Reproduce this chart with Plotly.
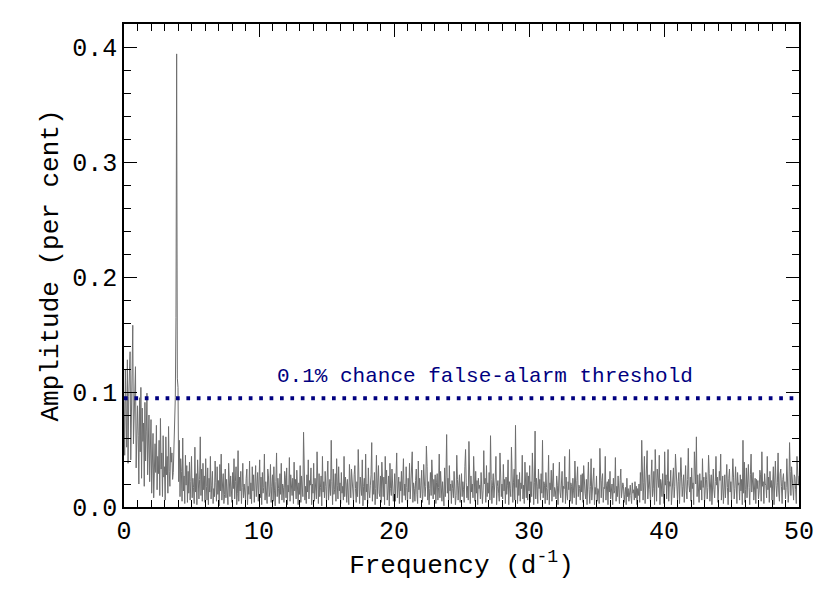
import numpy as np
import plotly.graph_objects as go

# Periodogram: amplitude in units of 0.001 per cent,
# one row per 1 d^-1, sampled every 0.05 d^-1
freq_step = 0.05
amp_milli = [
    92,45,120,80,52,128,38,96,112,135,41,70,99,158,55,84,118,122,34,66,     # 0
    88,62,20,95,48,104,25,86,57,73,18,91,40,66,99,28,52,80,22,69,           # 1
    76,12,41,64,8,38,55,30,71,15,44,29,58,10,77,33,47,9,62,26,              # 2
    35,6,61,28,44,12,70,31,18,52,39,47,24,30,57,66,95,165,394,112,          # 3
    104,22,58,9,42,31,5,60,14,27,3,45,19,36,4,31,12,39,6,22,                # 4
    44,8,25,17,3,52,13,29,2,41,20,7,24,61,10,33,5,38,15,27,                 # 5
    4,42,18,6,34,2,25,13,44,7,19,31,3,16,9,40,21,5,35,11,                   # 6
    23,1,37,14,46,6,20,29,3,11,33,8,24,15,2,38,19,9,27,12,                  # 7
    4,30,16,42,7,22,35,2,12,49,5,26,14,31,3,17,38,8,20,13,                  # 8
    6,25,33,2,18,11,40,7,21,3,35,14,28,4,23,36,9,16,30,5,                   # 9
    19,41,8,26,2,30,12,17,46,6,22,15,3,33,27,9,13,37,4,18,                  # 10
    28,5,35,14,1,22,47,9,25,16,3,29,11,38,6,20,17,4,31,26,                  # 11
    8,34,2,19,13,43,5,28,18,10,25,3,39,14,24,7,32,16,2,21,                  # 12
    11,36,4,27,15,9,65,24,6,18,3,28,13,41,7,23,19,34,2,20,                  # 13
    12,38,5,25,16,7,48,20,3,29,9,17,27,1,44,13,22,8,31,18,                  # 14
    4,26,40,6,17,24,10,58,22,2,33,11,15,29,5,42,19,7,35,14,                 # 15
    21,3,30,12,18,6,44,9,26,20,4,24,13,2,37,15,8,33,23,11,                  # 16
    5,28,36,16,4,22,9,50,31,3,26,17,10,41,1,18,25,6,46,13,                  # 17
    20,3,34,14,8,19,28,56,5,23,11,30,2,16,45,7,24,36,12,9,                  # 18
    27,4,39,15,9,26,2,44,20,32,6,14,27,1,38,16,10,33,22,5,                  # 19
    13,29,5,43,47,8,18,26,3,22,14,31,4,19,42,10,20,6,35,17,                 # 20
    2,25,13,38,7,20,29,48,4,21,16,5,23,33,11,3,40,15,25,8,                  # 21
    19,32,4,12,37,23,9,18,53,35,6,22,2,16,30,10,41,26,7,24,                 # 22
    11,28,3,21,29,6,17,46,8,31,20,5,22,15,1,34,9,27,63,12,                  # 23
    25,6,36,14,20,3,23,16,8,31,17,2,10,45,24,6,19,28,4,18,                  # 24
    29,9,22,15,4,35,50,21,8,18,6,57,24,3,27,13,20,8,44,17,                  # 25
    5,31,12,23,2,25,16,19,7,30,11,3,14,49,20,25,4,36,9,21,                  # 26
    12,30,6,62,24,3,19,29,8,15,26,44,2,18,23,12,5,47,28,9,                  # 27
    20,7,37,14,24,3,26,11,19,41,2,22,16,9,52,27,4,21,33,6,                  # 28
    71,17,28,3,24,10,30,5,21,16,45,7,19,3,39,20,8,30,6,27,                  # 29
    14,36,4,22,9,47,20,2,21,66,7,25,18,3,33,16,24,6,29,12,                  # 30
    58,8,22,19,3,30,17,6,16,45,2,21,15,32,5,23,38,9,17,14,                  # 31
    7,27,19,2,24,39,13,8,20,31,4,18,16,44,3,26,12,6,22,15,                  # 32
    50,5,21,18,3,25,14,8,40,17,2,23,35,9,19,16,6,28,13,29,                  # 33
    4,36,20,12,7,24,2,25,39,15,3,18,42,6,14,21,34,2,17,11,                  # 34
    27,5,16,14,3,51,20,8,23,29,4,17,16,44,6,19,22,2,24,13,                  # 35
    31,7,17,20,2,25,12,14,43,5,18,9,27,15,3,23,33,8,16,21,                  # 36
    18,4,11,17,2,25,9,16,5,13,19,10,3,21,12,15,6,22,8,18,                   # 37
    2,16,10,20,4,30,14,58,24,6,21,44,3,18,25,49,7,19,28,15,                 # 38
    4,27,41,9,16,31,2,50,21,5,33,19,17,45,2,24,20,9,29,14,                  # 39
    3,48,19,28,7,23,50,5,22,18,32,2,16,25,34,8,18,46,27,15,                 # 40
    6,22,30,3,17,43,26,9,18,28,4,20,36,14,7,24,51,19,13,26,                 # 41
    5,34,16,21,2,48,25,20,61,9,28,18,4,29,15,23,6,42,17,26,                 # 42
    3,14,30,24,7,17,45,29,5,20,28,2,18,33,15,8,22,44,19,26,                 # 43
    4,16,31,23,46,6,18,27,3,21,28,8,19,37,17,2,25,33,13,22,                 # 44
    5,18,42,26,7,16,35,20,3,30,19,21,6,28,14,24,2,58,12,39,                 # 45
    4,15,34,8,22,37,17,2,28,46,13,20,30,6,19,25,3,24,16,23,                 # 46
    7,14,32,28,5,48,18,22,3,29,20,19,8,44,15,26,4,31,17,23,                 # 47
    6,16,35,2,27,40,19,9,21,47,13,5,29,33,18,3,24,29,15,22,                 # 48
    7,17,42,25,4,14,56,31,10,35,20,18,6,28,26,15,3,44,24,19,                # 49
    27,                                                                     # 50
]
amplitude = [v / 1000 for v in amp_milli]
frequency = np.round(np.arange(len(amplitude)) * freq_step, 3)

threshold = 0.0945
threshold_label = "0.1% chance false-alarm threshold"
x_range = [0, 50]
y_range = [0, 0.42]
x_ticks = [0, 10, 20, 30, 40, 50]
y_ticks = [0.0, 0.1, 0.2, 0.3, 0.4]

FONT = "Liberation Mono"
NAVY = "#000080"

fig = go.Figure()
fig.add_trace(go.Scatter(
    x=frequency, y=amplitude, mode="lines",
    line=dict(color="#6e6e6e", width=1),
    showlegend=False, hoverinfo="skip",
))
fig.add_trace(go.Scatter(
    x=x_range, y=[threshold, threshold], mode="lines",
    line=dict(color=NAVY, width=4, dash="3.7px,6.7px"),
    showlegend=False, hoverinfo="skip",
))
fig.add_annotation(
    x=0.535, xref="paper", y=threshold, yref="y",
    text=threshold_label, showarrow=False, yshift=22,
    font=dict(family=FONT, size=21, color=NAVY), xanchor="center",
)

axis_common = dict(
    showline=True, linecolor="black", linewidth=1.5, mirror="allticks",
    ticks="inside", ticklen=13, tickwidth=1.3, tickcolor="black",
    showgrid=False, zeroline=False,
    tickfont=dict(family=FONT, size=25, color="black"),
)
fig.update_xaxes(
    range=x_range, tickvals=x_ticks, **axis_common,
    minor=dict(ticks="inside", ticklen=7, dtick=1, tickwidth=1.2, tickcolor="black", showgrid=False),
    title=dict(text="Frequency (d<sup>-1</sup>)", font=dict(family=FONT, size=26, color="black"), standoff=8),
)
fig.update_yaxes(
    range=y_range, tickvals=y_ticks, tickformat=".1f", **axis_common,
    minor=dict(ticks="inside", ticklen=7, dtick=0.02, tick0=0, tickwidth=1.2, tickcolor="black", showgrid=False),
    title=dict(text="Amplitude (per cent)", font=dict(family=FONT, size=26, color="black"), standoff=6),
)
# the page adds an 8 px body margin, so the figure is 8 px smaller than the window
fig.update_layout(
    width=822, height=585,
    margin=dict(l=116, r=31, t=16, b=86, autoexpand=False),
    plot_bgcolor="white", paper_bgcolor="white",
)
fig.write_html("out.html")
